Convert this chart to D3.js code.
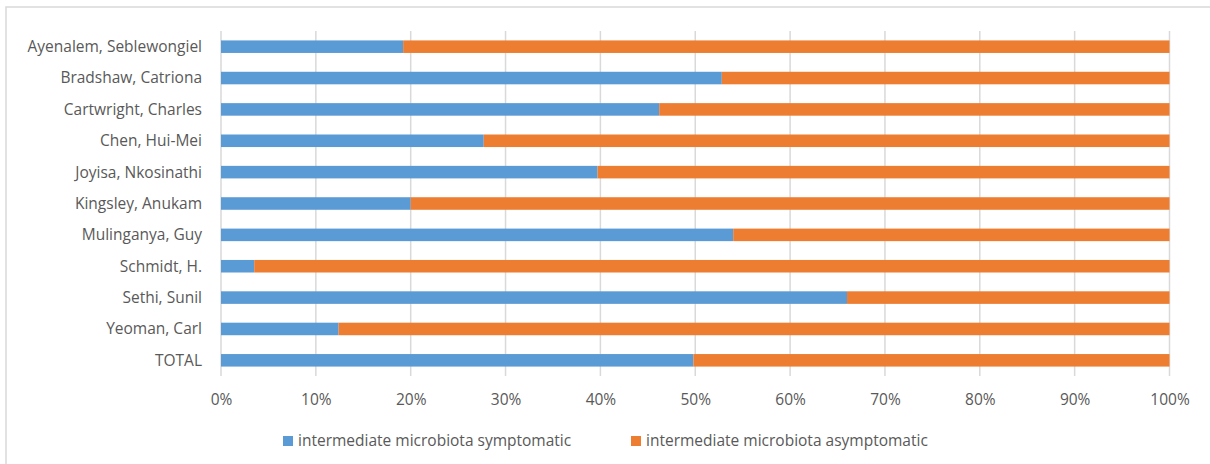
<!DOCTYPE html>
<html>
<head>
<meta charset="utf-8">
<script src="https://cdn.jsdelivr.net/npm/d3@7"></script>
<style>
  html, body { margin: 0; padding: 0; background: #fff; }
  svg { display: block; }
  text { font-family: "Open Sans", "Lato", sans-serif; fill: #595959; }
</style>
</head>
<body>
<svg id="chart" width="1210" height="464"></svg>
<script>
// Investigators (top to bottom) and the share of intermediate microbiota cases
const categories = [
  "Ayenalem, Seblewongiel",
  "Bradshaw, Catriona",
  "Cartwright, Charles",
  "Chen, Hui-Mei",
  "Joyisa, Nkosinathi ",
  "Kingsley, Anukam",
  "Mulinganya, Guy",
  "Schmidt, H.",
  "Sethi, Sunil",
  "Yeoman, Carl",
  "TOTAL"
];
// Symptomatic share (%) per row
const symptomatic = [19.2, 52.8, 46.2, 27.7, 39.7, 20.0, 54.0, 3.5, 66.0, 12.4, 49.8];
// Asymptomatic share (%) per row
const asymptomatic = symptomatic.map(v => +(100 - v).toFixed(1));
const seriesNames = ["intermediate microbiota symptomatic", "intermediate microbiota asymptomatic"];
const seriesColors = ["#5B9BD5", "#ED7D31"];
const tickValues = [0, 10, 20, 30, 40, 50, 60, 70, 80, 90, 100];

const FONT = "15.5px";
const svg = d3.select("#chart");

// Chart frame
svg.append("rect")
  .attr("x", 6).attr("y", 7)
  .attr("width", 1220).attr("height", 470)
  .attr("fill", "none")
  .attr("stroke", "#D9D9D9")
  .attr("stroke-width", 1.5);

const plot = { left: 221, right: 1169.5, top: 31, bottom: 376 };

const x = d3.scaleLinear().domain([0, 100]).range([plot.left, plot.right]);
const y = d3.scaleBand().domain(categories).range([plot.top, plot.bottom]).paddingInner(0.6).paddingOuter(0.3);

// Vertical gridlines
svg.append("g")
  .selectAll("line")
  .data(tickValues)
  .join("line")
  .attr("x1", d => x(d)).attr("x2", d => x(d))
  .attr("y1", plot.top).attr("y2", plot.bottom)
  .attr("stroke", "#D9D9D9")
  .attr("stroke-width", 1.5);

// Stacked series
const rows = categories.map((c, i) => ({ cat: c, s: symptomatic[i], a: asymptomatic[i] }));
const stack = d3.stack().keys(["s", "a"])(rows);

svg.append("g")
  .selectAll("g")
  .data(stack)
  .join("g")
  .attr("fill", (d, i) => seriesColors[i])
  .selectAll("rect")
  .data(d => d)
  .join("rect")
  .attr("x", d => x(d[0]))
  .attr("width", d => x(d[1]) - x(d[0]))
  .attr("y", d => y(d.data.cat))
  .attr("height", y.bandwidth());

// Category axis labels
svg.append("g")
  .selectAll("text")
  .data(categories)
  .join("text")
  .attr("x", 202)
  .attr("y", d => y(d) + y.bandwidth() / 2)
  .attr("dy", "0.35em")
  .attr("text-anchor", "end")
  .style("font-size", FONT)
  .text(d => d);

// Percentage axis
const xAxis = d3.axisBottom(x)
  .tickValues(tickValues)
  .tickFormat(d => d + "%")
  .tickSize(0)
  .tickPadding(0);
const gx = svg.append("g")
  .attr("transform", `translate(0, ${plot.bottom})`)
  .call(xAxis);
gx.select(".domain").remove();
gx.selectAll("text")
  .attr("y", 24)
  .attr("dy", "0.35em")
  .style("font-size", FONT)
  .style("fill", "#595959")
  .style("font-family", "'Open Sans', Lato, sans-serif");

// Legend
const legendPos = [283, 631];
const legend = svg.append("g")
  .selectAll("g")
  .data(seriesNames)
  .join("g")
  .attr("transform", (d, i) => `translate(${legendPos[i]}, 441)`);
legend.append("rect")
  .attr("x", 0).attr("y", -5)
  .attr("width", 10).attr("height", 10)
  .attr("fill", (d, i) => seriesColors[i]);
legend.append("text")
  .attr("x", 15)
  .attr("y", 0)
  .attr("dy", "0.35em")
  .style("font-size", FONT)
  .text(d => d);
</script>
</body>
</html>
